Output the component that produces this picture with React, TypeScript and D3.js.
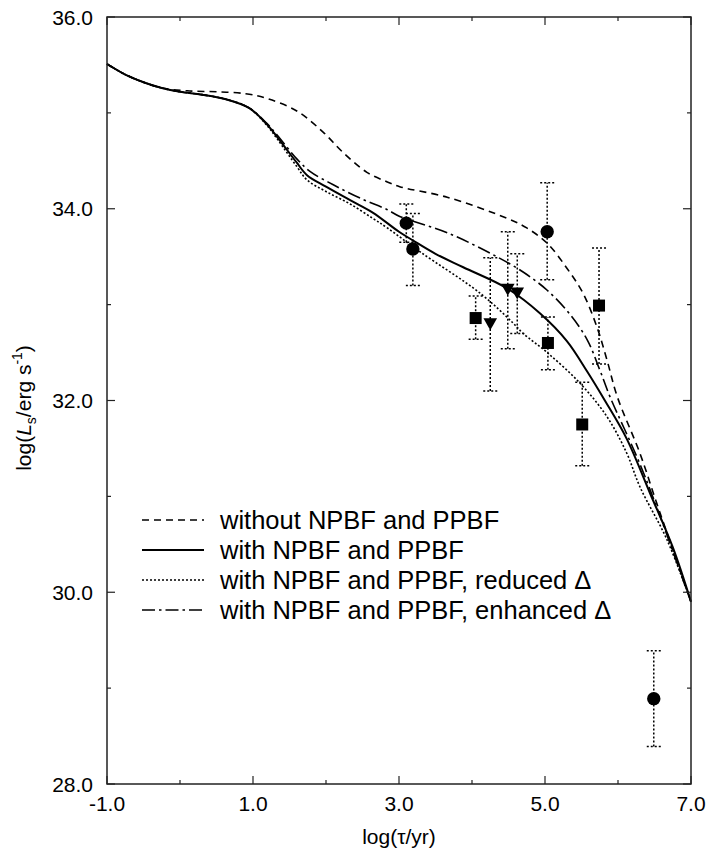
import React from "react";
import * as d3 from "d3";

// Curves: log(tau/yr) -> log(Ls)
const withoutX = [-1, -0.75, -0.5, -0.25, 0.1, 0.5, 0.9, 1.19, 1.6, 1.96, 2.23, 2.56, 2.84, 3.01, 3.66, 4.48, 4.75, 5.03, 5.3, 5.52, 5.71, 5.85, 5.99, 6.3, 6.53, 7.0];
const withoutY = [35.51, 35.4, 35.32, 35.26, 35.23, 35.22, 35.2, 35.15, 35.02, 34.8, 34.59, 34.38, 34.28, 34.23, 34.12, 33.9, 33.8, 33.64, 33.38, 33.12, 32.77, 32.42, 32.04, 31.45, 30.93, 29.9];

const withX = [-1, -0.75, -0.5, -0.25, 0, 0.3, 0.64, 0.95, 1.19, 1.33, 1.47, 1.6, 1.74, 2.0, 2.33, 2.64, 3.0, 3.19, 3.5, 3.88, 4.48, 4.93, 5.3, 5.58, 5.82, 6.12, 6.44, 6.75, 7.0];
const withY = [35.51, 35.4, 35.32, 35.26, 35.22, 35.19, 35.14, 35.05, 34.88, 34.75, 34.61, 34.48, 34.35, 34.23, 34.09, 33.96, 33.76, 33.67, 33.53, 33.39, 33.17, 32.91, 32.62, 32.3, 32.0, 31.6, 31.03, 30.47, 29.9];

const reducedX = [-1, -0.75, -0.5, -0.25, 0, 0.3, 0.64, 0.95, 1.19, 1.33, 1.6, 1.74, 2.0, 2.33, 2.64, 2.84, 3.29, 4.11, 4.56, 4.7, 5.03, 5.48, 5.85, 6.12, 6.3, 6.67, 7.0];
const reducedY = [35.51, 35.4, 35.32, 35.26, 35.22, 35.19, 35.14, 35.05, 34.87, 34.73, 34.44, 34.3, 34.18, 34.05, 33.9, 33.8, 33.55, 33.12, 32.81, 32.7, 32.5, 32.18, 31.83, 31.45, 31.1, 30.55, 29.9];

const enhancedX = [-1, -0.75, -0.5, -0.25, 0, 0.3, 0.64, 0.95, 1.19, 1.33, 1.6, 1.78, 2.1, 2.47, 2.84, 3.01, 3.66, 4.34, 4.7, 5.03, 5.34, 5.58, 5.75, 5.89, 6.26, 6.5, 7.0];
const enhancedY = [35.51, 35.4, 35.32, 35.26, 35.22, 35.19, 35.14, 35.05, 34.89, 34.77, 34.52, 34.39, 34.25, 34.11, 33.99, 33.92, 33.75, 33.5, 33.34, 33.15, 32.9, 32.63, 32.32, 32.04, 31.41, 30.95, 29.9];

// Observations
const circleX = [3.1, 3.19, 5.03, 6.49];
const circleY = [33.85, 33.58, 33.76, 28.89];
const circleLo = [33.65, 33.2, 33.26, 28.39];
const circleHi = [34.05, 33.95, 34.27, 29.39];

const squareX = [4.05, 5.04, 5.74, 5.51];
const squareY = [32.86, 32.6, 32.99, 31.75];
const squareLo = [32.64, 32.32, 32.38, 31.32];
const squareHi = [33.09, 32.87, 33.59, 32.19];

const triX = [4.25, 4.49, 4.62];
const triY = [32.8, 33.16, 33.12];
const triLo = [32.1, 32.54, 32.7];
const triHi = [33.49, 33.76, 33.53];

const xMajor = [-1, 1, 3, 5, 7];
const xMinor = [0, 2, 4, 6];
const yMajor = [28, 30, 32, 34, 36];
const yMinor = [29, 31, 33, 35];

const legendLabels = [
  "without NPBF and PPBF",
  "with NPBF and PPBF",
  "with NPBF and PPBF, reduced \u0394",
  "with NPBF and PPBF, enhanced \u0394",
];

const FONT = "'Liberation Sans', Arial, Helvetica, sans-serif";

export default function App() {
  const L = 107, R = 691, T = 17, B = 784;
  const x = d3.scaleLinear().domain([-1, 7]).range([L, R]);
  const y = d3.scaleLinear().domain([28, 36]).range([B, T]);
  const line = d3
    .line<[number, number]>()
    .x((d) => x(d[0]))
    .y((d) => y(d[1]))
    .curve(d3.curveCatmullRom.alpha(0.5));
  const zip = (a: number[], b: number[]) => a.map((v, i) => [v, b[i]] as [number, number]);

  const series = [
    { xs: withoutX, ys: withoutY, dash: "7,5", w: 1.6 },
    { xs: withX, ys: withY, dash: undefined, w: 2 },
    { xs: reducedX, ys: reducedY, dash: "2,2", w: 1.6 },
    { xs: enhancedX, ys: enhancedY, dash: "13,4,2.5,4", w: 1.6 },
  ];

  const errBar = (xv: number, lo: number, hi: number, key: string) => (
    <g key={key} stroke="#000" strokeWidth={1.5} strokeDasharray="2,2" fill="none">
      <line x1={x(xv)} x2={x(xv)} y1={y(lo)} y2={y(hi)} />
      <line x1={x(xv) - 7} x2={x(xv) + 7} y1={y(lo)} y2={y(lo)} />
      <line x1={x(xv) - 7} x2={x(xv) + 7} y1={y(hi)} y2={y(hi)} />
    </g>
  );

  const legendY0 = 520;
  const legendDy = 30;

  return (
    <svg width={708} height={850} style={{ position: "absolute", left: 0, top: 0, background: "#fff" }} fontFamily={FONT}>
      <rect x={0} y={0} width={708} height={850} fill="#fff" />
      {/* curves */}
      {series.map((s, i) => (
        <path key={i} d={line(zip(s.xs, s.ys)) || ""} fill="none" stroke="#000" strokeWidth={s.w} strokeDasharray={s.dash} />
      ))}
      {/* error bars */}
      {circleX.map((v, i) => errBar(v, circleLo[i], circleHi[i], "ce" + i))}
      {squareX.map((v, i) => errBar(v, squareLo[i], squareHi[i], "se" + i))}
      {triX.map((v, i) => errBar(v, triLo[i], triHi[i], "te" + i))}
      {/* markers */}
      {circleX.map((v, i) => (
        <circle key={"c" + i} cx={x(v)} cy={y(circleY[i])} r={6.7} fill="#000" />
      ))}
      {squareX.map((v, i) => (
        <rect key={"s" + i} x={x(v) - 6} y={y(squareY[i]) - 6} width={12} height={12} fill="#000" />
      ))}
      {triX.map((v, i) => {
        const cx = x(v), cy = y(triY[i]);
        return <path key={"t" + i} d={`M${cx - 6.8},${cy - 5.5}L${cx + 6.8},${cy - 5.5}L${cx},${cy + 6.5}Z`} fill="#000" />;
      })}
      {/* frame */}
      <rect x={L} y={T} width={R - L} height={B - T} fill="none" stroke="#222" strokeWidth={1.5} />
      {/* ticks */}
      <g stroke="#222" strokeWidth={1.2}>
        {xMajor.map((v) => (
          <g key={"xm" + v}>
            <line x1={x(v)} x2={x(v)} y1={B} y2={B - 8} />
            <line x1={x(v)} x2={x(v)} y1={T} y2={T + 8} />
          </g>
        ))}
        {xMinor.map((v) => (
          <g key={"xn" + v}>
            <line x1={x(v)} x2={x(v)} y1={B} y2={B - 4} />
            <line x1={x(v)} x2={x(v)} y1={T} y2={T + 4} />
          </g>
        ))}
        {yMajor.map((v) => (
          <g key={"ym" + v}>
            <line x1={L} x2={L + 8} y1={y(v)} y2={y(v)} />
            <line x1={R} x2={R - 8} y1={y(v)} y2={y(v)} />
          </g>
        ))}
        {yMinor.map((v) => (
          <g key={"yn" + v}>
            <line x1={L} x2={L + 4} y1={y(v)} y2={y(v)} />
            <line x1={R} x2={R - 4} y1={y(v)} y2={y(v)} />
          </g>
        ))}
      </g>
      {/* tick labels */}
      <g fontSize={21} fill="#000">
        {xMajor.map((v) => (
          <text key={"xl" + v} x={x(v)} y={811} textAnchor="middle">
            {v.toFixed(1)}
          </text>
        ))}
        {yMajor.map((v) => (
          <text key={"yl" + v} x={93} y={y(v) + 7.5} textAnchor="end">
            {v.toFixed(1)}
          </text>
        ))}
      </g>
      {/* axis titles */}
      <text x={(L + R) / 2} y={844} textAnchor="middle" fontSize={21}>
        log(τ/yr)
      </text>
      <text transform={`translate(31,408) rotate(-90)`} textAnchor="middle" fontSize={21}>
        log(<tspan fontStyle="italic">L</tspan>
        <tspan fontSize={14} dy={5}>s</tspan>
        <tspan dy={-5}>/erg s</tspan>
        <tspan fontSize={14} dy={-9}>-1</tspan>
        <tspan dy={9}>)</tspan>
      </text>
      {/* legend */}
      {series.map((s, i) => (
        <g key={"lg" + i}>
          <line x1={142} x2={204} y1={legendY0 + i * legendDy} y2={legendY0 + i * legendDy} stroke="#000" strokeWidth={s.w} strokeDasharray={s.dash} />
          <text x={220} y={legendY0 + i * legendDy + 9} fontSize={25.5}>
            {legendLabels[i]}
          </text>
        </g>
      ))}
    </svg>
  );
}
